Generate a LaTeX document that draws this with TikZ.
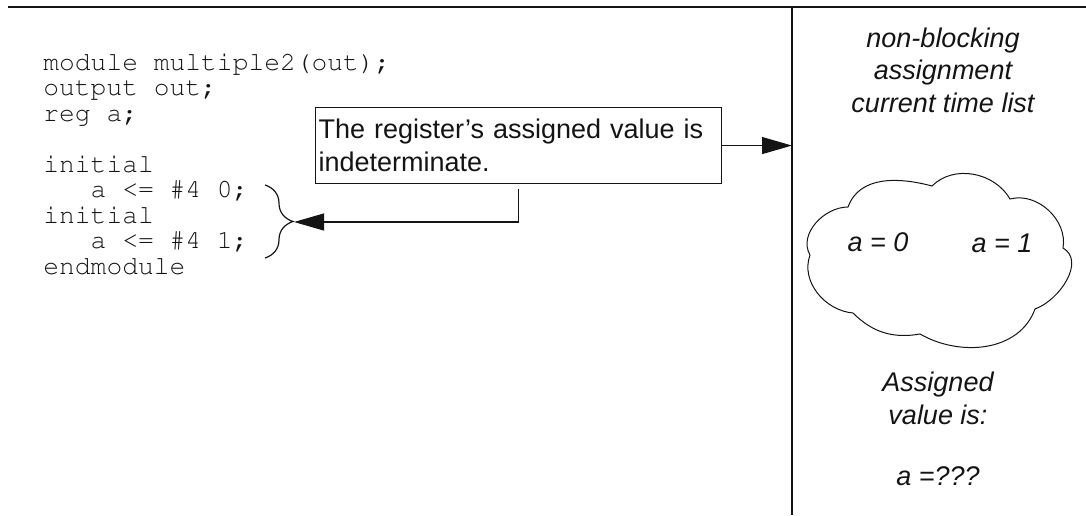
\documentclass[tikz,border=0pt]{standalone}
\usepackage[T1]{fontenc}
\usepackage{fontspec}
\setsansfont{Liberation Sans}
\setmonofont{Liberation Mono}
\usepackage{tikz}
\usetikzlibrary{arrows.meta,positioning,decorations.pathreplacing}
\definecolor{ink}{RGB}{20,20,20}
\newcommand{\courierfont}{\fontencoding{T1}\fontfamily{pcr}\selectfont}
\newcommand{\codeind}{\hphantom{aaa}}

\begin{document}
\begin{tikzpicture}[
  x=0.5pt, y=0.5pt,
  rule/.style={draw=ink,line width=0.6pt},
  code/.style={font=\courierfont\fontsize{13.15}{12.75}\selectfont,align=left,inner sep=0pt,anchor=base west,text=ink},
  note/.style={rectangle,draw=ink,line width=0.55pt,font=\sffamily\fontsize{13.5}{16.5}\selectfont,align=left,text width=200pt,inner xsep=1.5pt,minimum height=38pt,text=ink},
  remark/.style={font=\sffamily\itshape\fontsize{13.5}{16.2}\selectfont,align=center,inner sep=0pt,text=ink},
  arrow/.style={-{Triangle[length=15pt,width=8.5pt]},line width=0.55pt,ink},
  bracket/.style={decorate,decoration={brace,amplitude=14pt},line width=0.6pt,ink}
]
\useasboundingbox (0,0) rectangle (1086,515);
\coordinate (ruleleft) at (8,508);
\coordinate (ruleright) at (1086,508);
\coordinate (divtop) at (792,508);
\coordinate (divbot) at (792,0);
\draw[rule] (ruleleft) -- (ruleright);
\draw[rule] (divtop) -- (divbot);

\node[code] (src) at (43,241) {module multiple2(out);\\ output out;\\ reg a;\\[12.75pt] initial\\ \codeind a <= \#4 0;\\ initial\\ \codeind a <= \#4 1;\\ endmodule};
\node[note,anchor=north west] (note) at (315,408) {The register’s assigned value is\\ indeterminate.};

\coordinate (bracetop) at (265,330);
\coordinate (bracebot) at (265,257);
\coordinate (bracetip) at (294,293);
\draw[bracket] (bracetop) -- (bracebot);
\draw[arrow] ([yshift=-2.5pt]note.south) |- (bracetip);
\draw[arrow] (note.east) -- (note.east -| divtop);

\node[remark] (title) at (943,445) {non-blocking\\ assignment\\ current time list};
\draw[ink,line width=0.5pt] (848,308) to[out=70,in=165] (932,329) to[out=45,in=120] (1010,316)
  to[out=15,in=80] (1063,267) to[out=-30,in=20] (1035,206) to[out=-110,in=-30] (920,181)
  to[out=-170,in=-45] (853,202) to[out=175,in=-110] (810,260) to[out=120,in=180] cycle;
\node[remark] (azero) at (878,273) {a = 0};
\node[remark] (aone) at (1002,272) {a = 1};
\node[remark] (result) at (938,86) {Assigned\\ value is:\\[14.5pt] a =???};
\end{tikzpicture}
\end{document}
